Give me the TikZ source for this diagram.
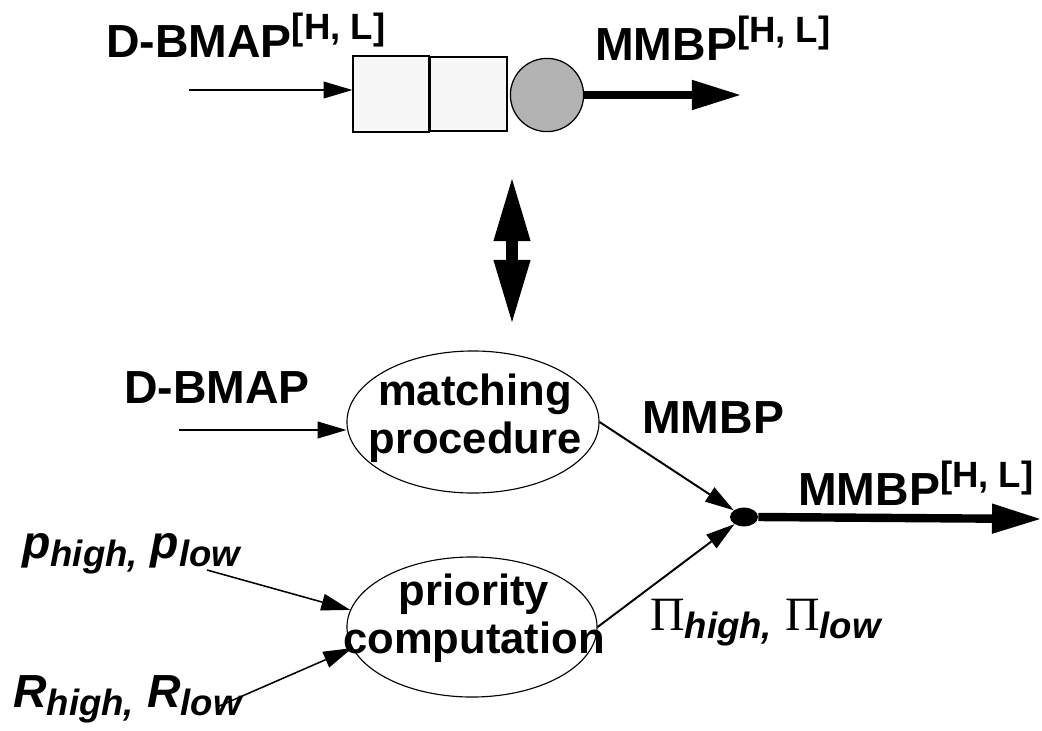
\documentclass[tikz,border=0pt]{standalone}
\usepackage{fontspec}
\setmainfont{Liberation Sans}
\newfontfamily\pifont{Liberation Serif}
\usetikzlibrary{shapes.geometric, arrows.meta}

\definecolor{queuefill}{HTML}{F7F7F7}
\definecolor{serverfill}{HTML}{B3B3B3}

\newcommand{\biglbl}{\fontsize{33}{36}\selectfont\bfseries}
\newcommand{\hlsup}{\raisebox{0.43cm}{\fontsize{26}{28}\selectfont\bfseries[H, L]}}
\newcommand{\lowtxt}[1]{\raisebox{-0.2cm}{\fontsize{26}{28}\selectfont\bfseries\itshape #1}}
\newcommand{\bigpi}{{\pifont\mdseries\upshape\fontsize{34}{36}\selectfont Π}}

\tikzstyle{label} = [anchor=base west, inner sep=0pt, font=\biglbl]
\tikzstyle{queue} = [rectangle, draw=black, line width=0.9pt, fill=queuefill, inner sep=0pt]
\tikzstyle{server} = [circle, draw=black, line width=0.9pt, fill=serverfill, minimum size=1.83cm, inner sep=0pt]
\tikzstyle{process} = [ellipse, draw=black, line width=0.8pt, inner sep=0pt]
\tikzstyle{proctext} = [align=center, inner sep=0pt, font=\fontsize{31}{34}\selectfont\bfseries]
\tikzstyle{joint} = [ellipse, fill=black, minimum width=0.7cm, minimum height=0.47cm, inner sep=0pt]
\tikzstyle{arrow} = [line width=1.1pt, -{Triangle[length=0.72cm, width=0.43cm, line width=0pt]}]
\tikzstyle{thickarrow} = [line width=0.21cm, -{Triangle[length=1.2cm, width=0.76cm, line width=0pt]}]
\tikzstyle{dblarrow} = [line width=0.3cm, {Triangle[length=1.55cm, width=0.93cm, line width=0pt]}-{Triangle[length=1.55cm, width=0.93cm, line width=0pt]}]

\begin{document}
\begin{tikzpicture}[x=0.025cm, y=-0.025cm]
\useasboundingbox (0,0) rectangle (1042,731);

% queue with its server
\node (q1) [queue, minimum width=1.9cm, minimum height=1.9cm] at (391,94) {};
\node (q2) [queue, minimum width=1.92cm, minimum height=1.85cm] at (468.5,94) {};
\node (srv) [server] at (547,95) {};

\node (dbmaptop) [label] at (106,57) {D-BMAP\hlsup};
\node (mmbptop) [label] at (595,60) {MMBP\hlsup};

\coordinate (qin) at (189,90);
\coordinate (qout) at (740,95);
\draw [arrow] (qin) -- (qin -| q1.west);
\draw [thickarrow] (srv.east) -- (qout);

% link between the two levels
\coordinate (up) at (512,179);
\coordinate (down) at (512,322);
\draw [dblarrow] (up) -- (down);

% matching and priority blocks
\node (match) [process, minimum width=6.3cm, minimum height=3.55cm] at (473,422) {};
\node (matchtxt) [proctext] at (475,418) {matching\\procedure};
\node (prio) [process, minimum width=6.25cm, minimum height=3.5cm] at (472,627) {};
\node (priotxt) [proctext] at (474,618) {priority\\computation};
\node (dot) [joint] at (744,517) {};

\node (dbmap) [label] at (124,403) {D-BMAP};
\node (mmbp) [label] at (642,433) {MMBP};
\node (mmbpout) [label] at (798,505) {MMBP\hlsup};
\node (pin) [label, font=\biglbl\itshape] at (22,558) {p\lowtxt{high,} p\lowtxt{low}};
\node (rin) [label, font=\biglbl\itshape] at (13,707) {R\lowtxt{high,} R\lowtxt{low}};
\node (piout) [label] at (650,630) {\bigpi\lowtxt{high,} \bigpi\lowtxt{low}};

\coordinate (min) at (179,430);
\coordinate (pstart) at (207,570);
\coordinate (rstart) at (217,707);
\coordinate (out) at (1040,519);

\draw [arrow] (min) -- (min -| match.west);
\draw [arrow] (pstart) -- (prio.172);
\draw [arrow] (rstart) -- (prio.190);

\draw [arrow, line width=1.4pt] (match.east) -- (dot);
\draw [arrow, line width=1.4pt] (prio.east) -- (dot);
\draw [thickarrow] (dot.east) -- (out);

\end{tikzpicture}
\end{document}
